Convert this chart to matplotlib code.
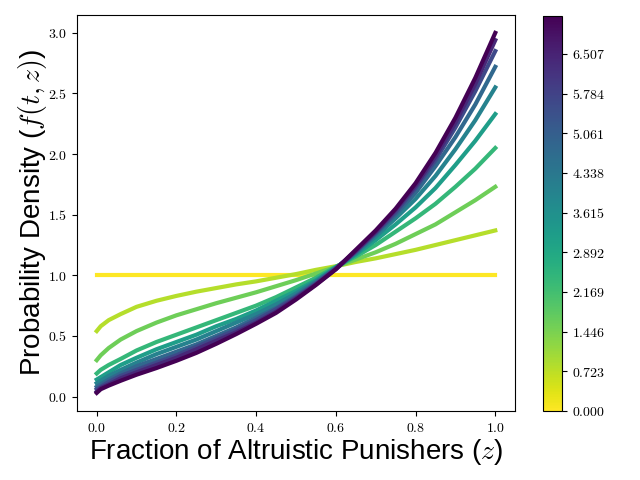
import matplotlib
matplotlib.use("Agg")
import matplotlib.pyplot as plt
from matplotlib import cm, colors
from matplotlib.ticker import FuncFormatter

plt.rcParams["mathtext.fontset"] = "cm"
plt.rcParams["font.family"] = ["Liberation Sans", "DejaVu Sans"]

z = [0.0, 0.01, 0.03, 0.06, 0.1, 0.15, 0.2, 0.25, 0.3, 0.35, 0.4, 0.45,
     0.5, 0.55, 0.6, 0.65, 0.7, 0.75, 0.8, 0.85, 0.9, 0.95, 1.0]

# time of each curve (colour value)
t_vals = [0.0, 0.8, 1.6, 2.4, 3.2, 4.0, 4.8, 5.6, 6.4, 7.2]

f_t0 = [1.0] * 23
f_t1 = [0.54, 0.58, 0.63, 0.68, 0.74, 0.79, 0.83, 0.865, 0.895, 0.925, 0.95, 0.98,
        1.01, 1.045, 1.075, 1.11, 1.14, 1.175, 1.21, 1.25, 1.29, 1.33, 1.37]
f_t2 = [0.30, 0.34, 0.40, 0.47, 0.54, 0.61, 0.67, 0.72, 0.77, 0.815, 0.86, 0.91,
        0.96, 1.015, 1.07, 1.13, 1.19, 1.26, 1.34, 1.42, 1.52, 1.62, 1.73]
f_t3 = [0.19, 0.22, 0.26, 0.31, 0.38, 0.45, 0.51, 0.57, 0.63, 0.69, 0.75, 0.82,
        0.90, 0.98, 1.07, 1.155, 1.25, 1.36, 1.47, 1.59, 1.73, 1.88, 2.05]
f_t4 = [0.14, 0.16, 0.20, 0.26, 0.32, 0.39, 0.45, 0.51, 0.58, 0.64, 0.71, 0.79,
        0.87, 0.96, 1.065, 1.17, 1.29, 1.42, 1.56, 1.72, 1.91, 2.11, 2.33]
f_t5 = [0.11, 0.13, 0.17, 0.22, 0.28, 0.35, 0.41, 0.47, 0.54, 0.61, 0.68, 0.76,
        0.85, 0.95, 1.06, 1.18, 1.32, 1.47, 1.63, 1.82, 2.04, 2.28, 2.55]
f_t6 = [0.08, 0.10, 0.14, 0.19, 0.25, 0.31, 0.37, 0.43, 0.50, 0.57, 0.65, 0.73,
        0.83, 0.94, 1.06, 1.19, 1.34, 1.50, 1.68, 1.90, 2.14, 2.41, 2.72]
f_t7 = [0.06, 0.08, 0.12, 0.17, 0.22, 0.28, 0.34, 0.41, 0.48, 0.55, 0.63, 0.72,
        0.82, 0.93, 1.055, 1.20, 1.35, 1.52, 1.72, 1.95, 2.22, 2.52, 2.85]
f_t8 = [0.04, 0.07, 0.10, 0.15, 0.20, 0.26, 0.32, 0.39, 0.46, 0.53, 0.61, 0.70,
        0.81, 0.925, 1.05, 1.20, 1.36, 1.54, 1.74, 1.98, 2.26, 2.58, 2.94]
f_t9 = [0.03, 0.06, 0.09, 0.13, 0.18, 0.235, 0.295, 0.36, 0.435, 0.515, 0.60, 0.69,
        0.80, 0.92, 1.05, 1.21, 1.37, 1.55, 1.76, 2.01, 2.30, 2.63, 3.00]
curves = [f_t0, f_t1, f_t2, f_t3, f_t4, f_t5, f_t6, f_t7, f_t8, f_t9]

cbar_ticks = [0.0, 0.723, 1.446, 2.169, 2.892, 3.615, 4.338, 5.061, 5.784, 6.507]

fig = plt.figure(figsize=(6.4, 4.8), dpi=100)
ax = fig.add_axes([0.12, 0.144, 0.685, 0.825])
cax = fig.add_axes([0.848, 0.144, 0.030, 0.823])

norm = colors.Normalize(vmin=0.0, vmax=7.2)
cmap = plt.get_cmap("viridis_r")

for t, f in zip(t_vals, curves):
    ax.plot(z, f, color=cmap(norm(t)), lw=3)

math_fmt = FuncFormatter(lambda v, p: "$%.1f$" % v)
ax.xaxis.set_major_formatter(math_fmt)
ax.yaxis.set_major_formatter(math_fmt)
ax.set_xticks([0.0, 0.2, 0.4, 0.6, 0.8, 1.0])
ax.set_yticks([0.0, 0.5, 1.0, 1.5, 2.0, 2.5, 3.0])
ax.tick_params(labelsize=10)

ax.set_xlabel(r"Fraction of Altruistic Punishers ($z$)", fontsize=20, labelpad=2)
ax.set_ylabel(r"Probability Density ($f(t,z)$)", fontsize=20, labelpad=-1)

sm = cm.ScalarMappable(norm=norm, cmap=cmap)
sm.set_array([])
cb = fig.colorbar(sm, cax=cax, ticks=cbar_ticks)
cb.ax.yaxis.set_major_formatter(FuncFormatter(lambda v, p: "$%.3f$" % v))
cb.ax.tick_params(labelsize=10)

fig.savefig("out.png", dpi=100)
